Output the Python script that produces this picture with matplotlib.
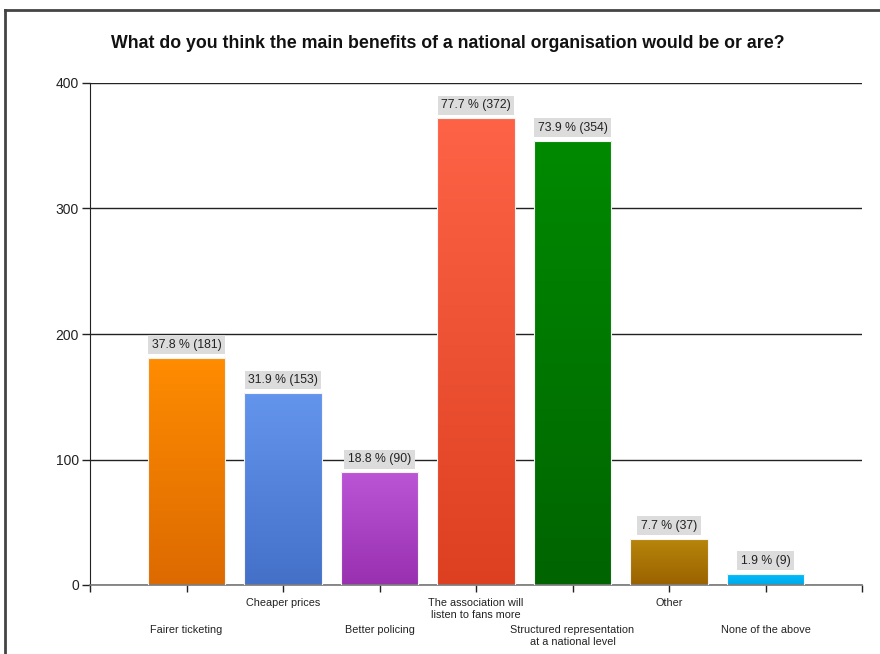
import numpy as np
import matplotlib.pyplot as plt
from matplotlib.colors import LinearSegmentedColormap
from matplotlib.lines import Line2D

plt.rcParams['font.family'] = ['Liberation Sans', 'DejaVu Sans']

# данні з опитування
categories = ['Fairer ticketing', 'Cheaper prices', 'Better policing',
              'The association will\nlisten to fans more',
              'Structured representation\nat a national level',
              'Other', 'None of the above']
counts = [181, 153, 90, 372, 354, 37, 9]
percents = [37.8, 31.9, 18.8, 77.7, 73.9, 7.7, 1.9]
# кольори: верх / низ градієнта
top_colors = ['#ff8c00', '#6495ed', '#bb55d6', '#ff6347', '#008a00', '#b8860b', '#00bfff']
bottom_colors = ['#dc6a00', '#4470c8', '#9830b0', '#dc4020', '#006400', '#9a6200', '#00a8e6']

fig = plt.figure(figsize=(8.8, 6.54), dpi=100)
ax = fig.add_axes([90 / 880, 69 / 654, 772 / 880, 502 / 654])

x = np.arange(1, len(categories) + 1)
bars = ax.bar(x, counts, width=0.8, color='none', edgecolor='#f4f4f4', linewidth=0.8, zorder=3)

# градієнт у кожному стовпчику
grad = np.linspace(0, 1, 256).reshape(-1, 1)
for b, c_top, c_bot in zip(bars, top_colors, bottom_colors):
    cmap = LinearSegmentedColormap.from_list('g', [c_bot, c_top])
    x0, w, h = b.get_x(), b.get_width(), b.get_height()
    im = ax.imshow(grad, cmap=cmap, aspect='auto', origin='lower',
                   extent=[x0, x0 + w, 0, h], zorder=2)
    im.set_clip_path(b)

# підписи над стовпчиками
for xi, c, p in zip(x, counts, percents):
    ax.annotate(f'{p} % ({c})', (xi, c), xytext=(0, 5), textcoords='offset points',
                ha='center', va='bottom', fontsize=8.8, color='#222222', zorder=4,
                bbox=dict(boxstyle='square,pad=0.28', fc='#dcdcdc', ec='none'))

ax.set_xlim(0, 8)
ax.set_ylim(0, 400)
ax.set_yticks([0, 100, 200, 300, 400])
ax.set_xticks(np.arange(0, 9))
ax.set_xticklabels([])
ax.tick_params(axis='y', length=6, width=1, colors='#222222', labelsize=10, pad=2)
ax.tick_params(axis='x', length=5, width=1, color='#222222')
ax.yaxis.grid(True, color='#222222', linewidth=1, zorder=1)
ax.set_axisbelow(True)
for s in ['top', 'right']:
    ax.spines[s].set_visible(False)
ax.spines['left'].set_color('#222222')
ax.spines['bottom'].set_color('#777777')
ax.spines['bottom'].set_linewidth(1.2)

# підписи категорій у два ряди
for i, (xi, name) in enumerate(zip(x, categories)):
    off = -29 if i % 2 == 0 else -9
    ax.annotate(name, (xi, 0), xycoords=('data', 'axes fraction'),
                xytext=(0, off), textcoords='offset points',
                ha='center', va='top', fontsize=7.8, color='#222222',
                linespacing=1.25)

fig.text(448 / 880, 1 - 43 / 654, 'What do you think the main benefits of a national organisation would be or are?',
         ha='center', va='center', fontsize=12.8, fontweight='bold', color='#111111')

# рамка
fig.add_artist(Line2D([5 / 880, 5 / 880], [0, 1 - 10 / 654], color='#444444', lw=2))
fig.add_artist(Line2D([5 / 880, 1], [1 - 10 / 654, 1 - 10 / 654], color='#444444', lw=2))

fig.savefig('out.png', dpi=100)
